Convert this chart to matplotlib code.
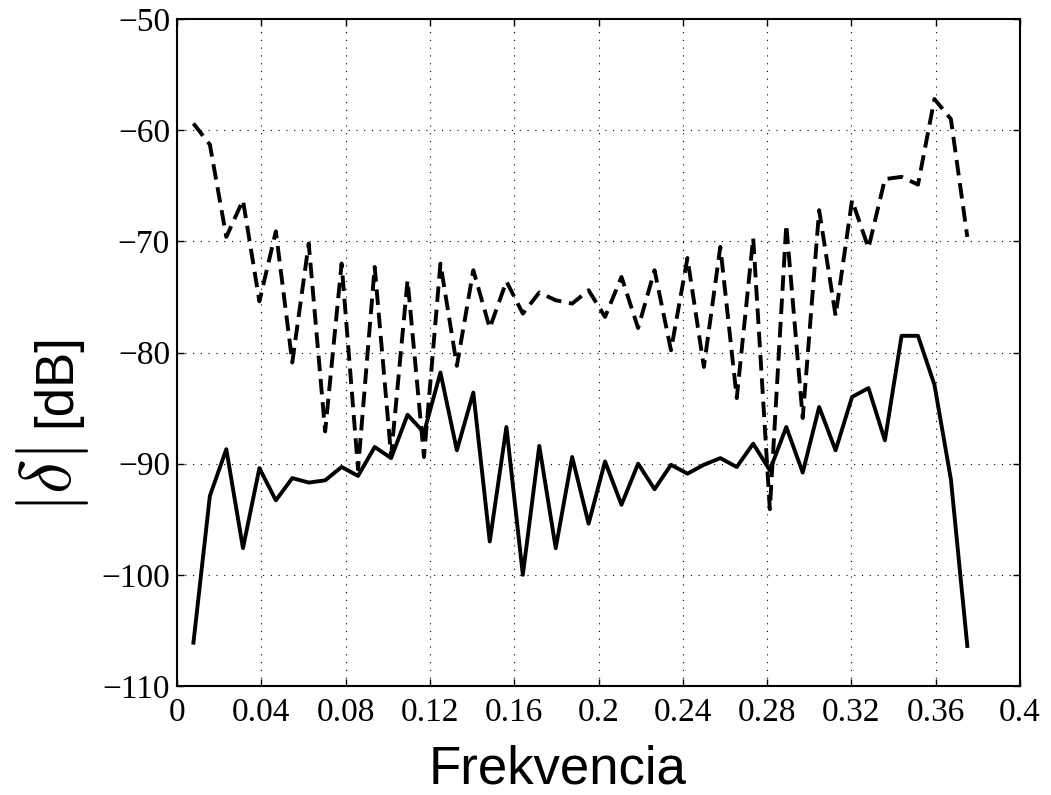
import matplotlib
matplotlib.use("Agg")
import matplotlib.pyplot as plt
from matplotlib.ticker import FuncFormatter

freq = [0.0078, 0.0156, 0.0234, 0.0313, 0.0391, 0.0469, 0.0547, 0.0625,
        0.0703, 0.0781, 0.0859, 0.0938, 0.1016, 0.1094, 0.1172, 0.1250,
        0.1328, 0.1406, 0.1484, 0.1563, 0.1641, 0.1719, 0.1797, 0.1875,
        0.1953, 0.2031, 0.2109, 0.2188, 0.2266, 0.2344, 0.2422, 0.2500,
        0.2578, 0.2656, 0.2734, 0.2813, 0.2891, 0.2969, 0.3047, 0.3125,
        0.3203, 0.3281, 0.3359, 0.3438, 0.3516, 0.3594, 0.3672, 0.3750]

solid_db = [-106.1, -92.9, -88.7, -97.6, -90.4, -93.3, -91.3, -91.7,
            -91.5, -90.3, -91.1, -88.5, -89.5, -85.6, -87.2, -81.8,
            -88.8, -83.6, -97.0, -86.7, -100.0, -88.4, -97.6, -89.4,
            -95.4, -89.8, -93.7, -90.0, -92.3, -90.1, -90.9, -90.1,
            -89.5, -90.3, -88.2, -90.6, -86.7, -90.8, -84.9, -88.8,
            -84.0, -83.2, -87.9, -78.5, -78.5, -82.9, -91.4, -106.4]

dashed_db = [-59.4, -61.3, -69.6, -66.3, -75.4, -69.1, -80.9, -70.2,
             -87.1, -72.0, -90.5, -72.3, -89.3, -73.5, -89.4, -72.0,
             -81.2, -72.6, -77.8, -73.6, -76.5, -74.6, -75.3, -75.6,
             -74.4, -76.8, -73.2, -77.8, -72.6, -79.8, -71.5, -81.3,
             -70.5, -84.1, -69.7, -94.1, -68.5, -85.9, -67.2, -76.7,
             -66.3, -70.6, -64.4, -64.2, -64.9, -57.2, -59.0, -69.6]

xticks = [0, 0.04, 0.08, 0.12, 0.16, 0.2, 0.24, 0.28, 0.32, 0.36, 0.4]
yticks = [-110, -100, -90, -80, -70, -60, -50]

plt.rcParams["mathtext.fontset"] = "cm"

fig = plt.figure(figsize=(10.51, 7.95), dpi=100)
ax = fig.add_axes([177 / 1051, 1 - 686 / 795, 843 / 1051, 667 / 795])

ax.plot(freq, dashed_db, color="black", linewidth=2.8, linestyle=(0, (4, 2)))
ax.plot(freq, solid_db, color="black", linewidth=2.8, linestyle="-")

ax.set_xlim(0, 0.4)
ax.set_ylim(-110, -50)
ax.set_xticks(xticks)
ax.set_yticks(yticks)
ax.xaxis.set_major_formatter(FuncFormatter(lambda v, p: f"{v:g}"))
ax.yaxis.set_major_formatter(FuncFormatter(lambda v, p: f"\u2212{abs(v):g}" if v < 0 else f"{v:g}"))

for lab in ax.get_xticklabels() + ax.get_yticklabels():
    lab.set_fontfamily("Liberation Serif")
    lab.set_fontsize(24)

ax.tick_params(direction="in", length=5, width=1, top=True, right=True)
ax.tick_params(axis="x", pad=8)
ax.tick_params(axis="y", pad=5)
ax.grid(True, linestyle=(0, (1, 6)), color="black", linewidth=0.8)
for s in ax.spines.values():
    s.set_linewidth(1.5)

# x label sits a bit left of centre, as in the original export
ax.set_xlabel("Frekvencia", fontsize=38, family="Liberation Sans")
ax.xaxis.label.set_va("baseline")
ax.xaxis.set_label_coords(0.4514, -0.1469)

# y label: big math part and a smaller text part
ax.text(-0.1435, 0.458, "[dB]", transform=ax.transAxes, rotation=90,
        ha="center", va="center", fontsize=38, family="Liberation Sans")
ax.text(-0.1477, 0.3088, r"$|\delta|$", transform=ax.transAxes, rotation=90,
        ha="center", va="center", fontsize=52)

fig.savefig("out.png", dpi=100, facecolor="white")
